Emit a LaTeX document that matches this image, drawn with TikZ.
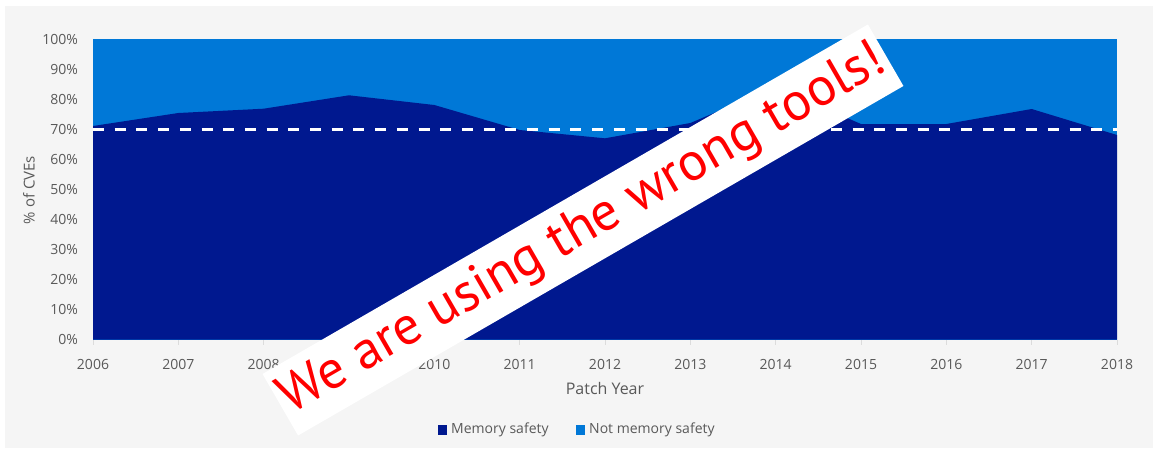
\documentclass[tikz,border=0pt]{standalone}
\usepackage{fontspec}
\setmainfont{Open Sans}
\newfontfamily\bannerfont{PT Sans}
\definecolor{navy}{RGB}{0,24,143}
\definecolor{lblue}{RGB}{0,120,215}
\definecolor{txtgray}{RGB}{89,89,89}
\definecolor{bggray}{RGB}{245,245,245}
\definecolor{tickgray}{RGB}{220,220,220}
\begin{document}
\begin{tikzpicture}[x=1pt,y=-1pt,
  ylab/.style={anchor=east, text=txtgray, font=\fontsize{14}{14}\selectfont, inner sep=0pt},
  xlab/.style={anchor=center, text=txtgray, font=\fontsize{14}{14}\selectfont, inner sep=0pt},
  legtext/.style={anchor=west, text=txtgray, font=\fontsize{14}{14}\selectfont, inner sep=0pt},
  ticksty/.style={draw=tickgray, line width=0.8pt},
  refline/.style={draw=white, line width=3pt, dash pattern=on 11pt off 10.7pt},
  bannersty/.style={fill=white, rotate=30, minimum width=699pt, minimum height=71pt, inner sep=0pt,
     text=red, font=\bannerfont\fontsize{54}{54}\selectfont}]
\useasboundingbox (0,0) rectangle (1154,452);
\fill[white] (0,0) rectangle (1154,452);
\fill[bggray] (5,6) rectangle (1153,448);
% plot area
\fill[lblue] (93,39.5) rectangle (1117,339.5);
\fill[navy] (93,339.5) -- (93,126) -- (178.33,113) -- (263.67,108.7) -- (349,95.3)
  -- (434.33,105) -- (519.67,130) -- (605,138.3) -- (690.33,123) -- (775.67,87)
  -- (861,124) -- (946.33,124) -- (1031.67,109) -- (1117,135) -- (1117,339.5) -- cycle;
\coordinate (refL) at (93,129.5);
\coordinate (refR) at (1117,129.5);
\draw[refline] (refL) -- (refR);
% y labels
\foreach \v [count=\i from 0] in {0,10,20,30,40,50,60,70,80,90,100}
  \node[ylab] (yl\i) at (78,339.5-3*\v) {\v\%};
% x ticks and labels
\foreach \yr [count=\i from 0] in {2006,2007,2008,2009,2010,2011,2012,2013,2014,2015,2016,2017,2018}{
  \coordinate (tk\i) at (93+85.333*\i,340);
  \draw[ticksty] (tk\i) -- ++(0,5);
  \node[xlab] (xl\i) at (93+85.333*\i,364) {\yr};
}
\node[text=txtgray, font=\fontsize{16}{16}\selectfont, inner sep=0pt] (xtitle) at (605,388) {Patch Year};
\node[text=txtgray, font=\fontsize{15}{15}\selectfont, inner sep=0pt, rotate=90] (ytitle) at (29,190) {\% of CVEs};
% legend
\fill[navy] (438,425) rectangle (447,435);
\node[legtext] (leg1) at (451,430) {Memory safety};
\fill[lblue] (576,425) rectangle (585,435);
\node[legtext] (leg2) at (589,430) {Not memory safety};
% banner
\node[bannersty] (banner) at (583,230) {We are using the wrong tools!};
\end{tikzpicture}
\end{document}
